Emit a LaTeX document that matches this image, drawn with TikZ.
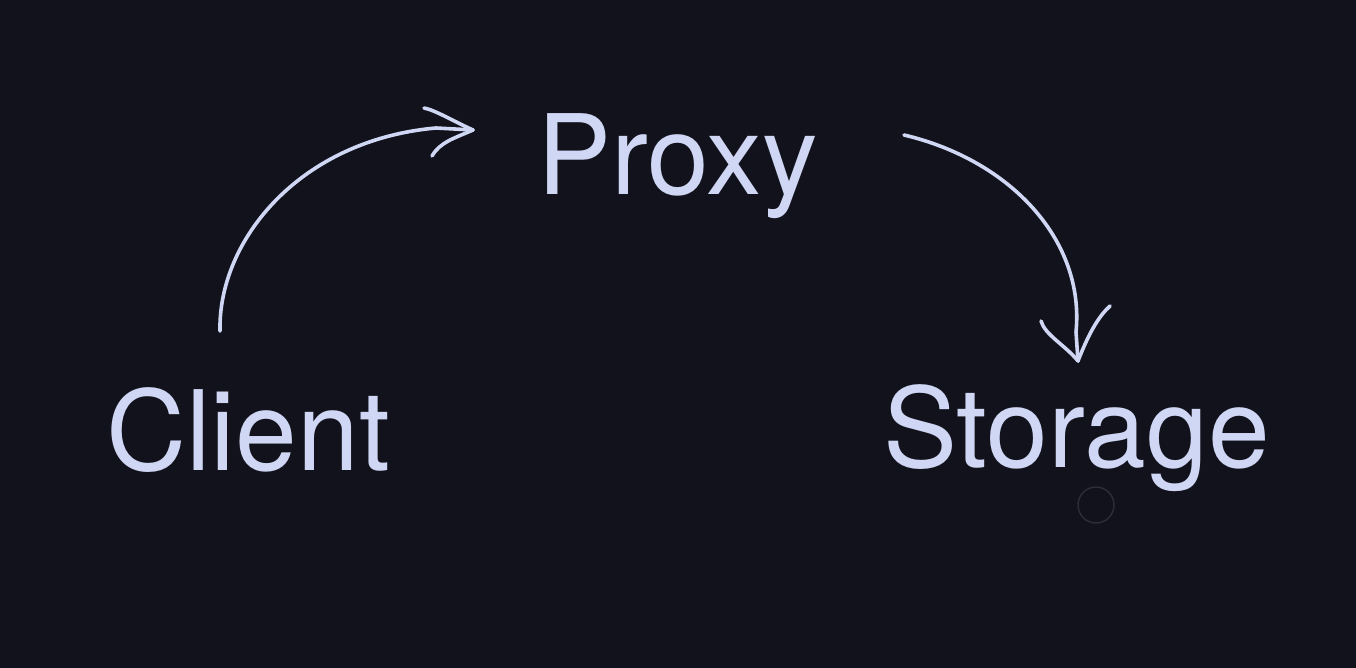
\documentclass[tikz,border=0pt]{standalone}
\usepackage{fontspec}
\setmainfont{TeX Gyre Heros}
\definecolor{bg}{HTML}{11121B}
\definecolor{ink}{HTML}{D0D7F5}
\definecolor{ring}{HTML}{2A2C38}
\begin{document}
\begin{tikzpicture}[x=1pt,y=-1pt,
  label/.style={inner sep=0pt,text=ink,font=\fontsize{111}{134}\selectfont},
  sketch/.style={draw=ink,line width=3.6pt,line cap=round,line join=round}]
\fill[bg] (0,0) rectangle (1356,668);
\useasboundingbox (0,0) rectangle (1356,668);
\node[label,anchor=base west] (client) at (106,470) {Client};
\node[label,anchor=base west] (proxy) at (537,195) {Proxy};
\node[label,anchor=base west] (storage) at (883,467) {Storage};
\draw[ring,line width=1.5pt] (1096,505) circle (18);
% arrow client -> proxy
\coordinate (a1s) at (220,331);
\coordinate (a1e) at (473,130);
\draw[sketch] (a1s) .. controls (218,240) and (300,140) .. (436,128) -- (a1e);
\draw[sketch] (424,108) .. controls (435,110) and (455,122) .. (a1e)
  .. controls (455,138) and (440,142) .. (432,156);
% arrow proxy -> storage
\coordinate (a2s) at (904,135);
\coordinate (a2e) at (1078,361);
\draw[sketch] (a2s) .. controls (1010,160) and (1085,240) .. (1076,332) -- (a2e);
\draw[sketch] (1041,321) .. controls (1045,335) and (1065,345) .. (a2e)
  .. controls (1090,330) and (1100,315) .. (1110,306);
\end{tikzpicture}
\end{document}
